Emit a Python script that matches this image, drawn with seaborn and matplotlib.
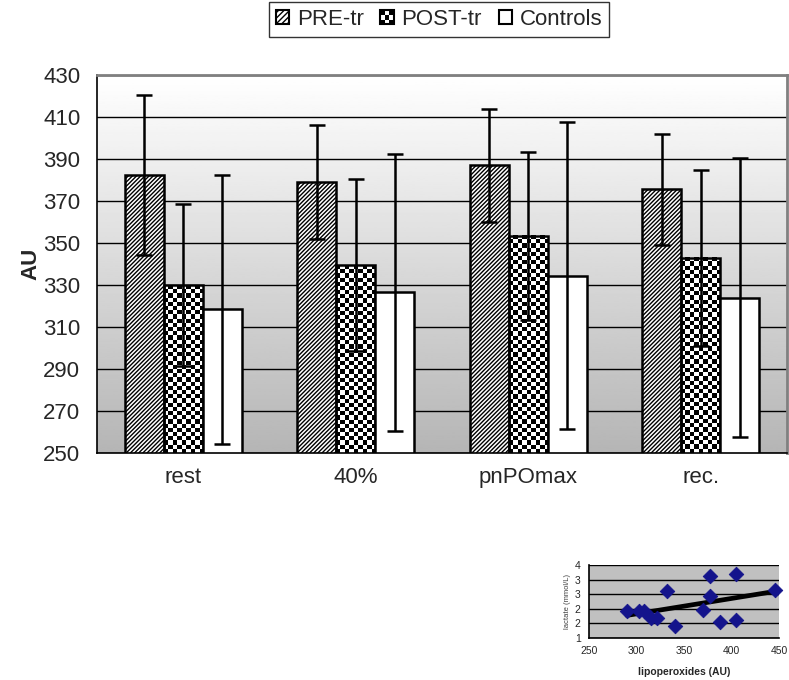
import numpy as np
import pandas as pd
import matplotlib
matplotlib.use("Agg")
import matplotlib.pyplot as plt
from matplotlib.patches import Rectangle
from matplotlib.legend_handler import HandlerBase
from matplotlib.ticker import FormatStrFormatter
import seaborn as sns

sns.set_style("white")
plt.rcParams["font.family"] = ["Liberation Sans", "DejaVu Sans"]
plt.rcParams["hatch.linewidth"] = 1.0

# ---- data ----
phases = ["rest", "40%", "pnPOmax", "rec."]
groups = ["PRE-tr", "POST-tr", "Controls"]
pre_mean = [382.5, 379.0, 387.0, 375.5]
pre_err = [38.0, 27.0, 27.0, 26.5]
post_mean = [330.0, 339.5, 353.5, 343.0]
post_err = [38.5, 41.0, 40.0, 42.0]
ctrl_mean = [318.5, 326.5, 334.5, 324.0]
ctrl_err = [64.0, 66.0, 73.0, 66.5]

# inset scatter: lipoperoxides vs lactate
lipo = [290, 302.5, 308, 315.5, 322, 332.5, 340.5, 369.5, 377, 377, 388, 404.5, 405, 446]
lact = [2.1, 2.1, 2.1, 1.83, 1.83, 2.93, 1.51, 2.14, 3.54, 2.73, 1.66, 1.73, 3.65, 2.97]

df = pd.DataFrame({
    "phase": phases * 3,
    "group": np.repeat(groups, len(phases)),
    "value": pre_mean + post_mean + ctrl_mean,
})
errs = [pre_err, post_err, ctrl_err]
ybase = 250

# ---- figure ----
fig = plt.figure(figsize=(7.89, 6.80), dpi=100)
ax = fig.add_axes([97 / 789, 227 / 680, 690 / 789, 378 / 680])

# gradient background
grad = np.linspace(0.71, 1.0, 256).reshape(-1, 1)
ax.imshow(grad, cmap="gray", vmin=0, vmax=1, extent=[0, 1, 0, 1],
          transform=ax.transAxes, aspect="auto", origin="lower", zorder=0)

sns.barplot(data=df, x="phase", y="value", hue="group", errorbar=None,
            width=0.68, palette=["white"] * 3, edgecolor="black",
            linewidth=1.8, saturation=1, ax=ax, legend=False, zorder=1)

# patterns
for bar in ax.containers[0]:
    bar.set_hatch("////////")
for bar in ax.containers[1]:
    bar.set_facecolor("none")
    x0, w, h = bar.get_x(), bar.get_width(), bar.get_height()
    ncols = 9
    nrows = max(int(round((h - ybase) / 2.0)), 1)
    ii, jj = np.indices((nrows, ncols))
    chk = ((ii + jj) % 2).astype(float)
    ax.imshow(chk, cmap="gray", vmin=0, vmax=1, extent=[x0, x0 + w, ybase, h],
              aspect="auto", origin="lower", interpolation="nearest", zorder=0.9)

# error bars
for cont, err in zip(ax.containers, errs):
    xs = [b.get_x() + b.get_width() / 2 for b in cont]
    ys = [b.get_height() for b in cont]
    ax.errorbar(xs, ys, yerr=err, fmt="none", ecolor="black", elinewidth=1.8,
                capsize=6, capthick=1.8, zorder=3)

ax.set_ylim(250, 430)
ax.set_xlim(-0.5, 3.5)
ax.set_yticks(np.arange(250, 431, 20))
ax.yaxis.grid(True, color="black", linewidth=1.0)
ax.set_axisbelow(True)
for gl in ax.get_ygridlines():
    gl.set_zorder(0.5)

ax.set_xticks(range(4))
ax.set_xticklabels(phases)
ax.set_xticks(np.arange(-0.5, 3.6, 1), minor=True)
ax.tick_params(axis="x", which="major", length=0, pad=10, labelsize=16)
ax.tick_params(axis="x", which="minor", length=6, width=1, color="black", direction="out")
ax.tick_params(axis="y", length=7, width=1, color="black", direction="out", labelsize=16, pad=5)
ax.set_xlabel("")
ax.set_ylabel("AU", fontsize=16, fontweight="bold", labelpad=1)

for side in ["left", "bottom"]:
    ax.spines[side].set_color("black")
    ax.spines[side].set_linewidth(1.2)
for side in ["top", "right"]:
    ax.spines[side].set_visible(True)
    ax.spines[side].set_color("#808080")
    ax.spines[side].set_linewidth(2)


# legend with a checker swatch
class CheckerHandler(HandlerBase):
    def create_artists(self, legend, orig_handle, xdescent, ydescent,
                       width, height, fontsize, trans):
        arts = [Rectangle((-xdescent, -ydescent), width, height, facecolor="white",
                          edgecolor="black", lw=1.5, transform=trans)]
        n = 3
        cw, ch = width / n, height / n
        for i in range(n):
            for j in range(n):
                if (i + j) % 2 == 0:
                    arts.append(Rectangle((-xdescent + i * cw, -ydescent + j * ch), cw, ch,
                                          facecolor="black", lw=0, transform=trans))
        return arts


h_pre = Rectangle((0, 0), 1, 1, facecolor="white", edgecolor="black", hatch="//////", lw=1.5)
h_post = Rectangle((0, 0), 1, 1, facecolor="black")
h_ctrl = Rectangle((0, 0), 1, 1, facecolor="white", edgecolor="black", lw=1.5)
leg = fig.legend([h_pre, h_post, h_ctrl], groups, loc="center",
                 bbox_to_anchor=(439 / 789, 1 - 19.5 / 680), ncol=3, fontsize=16,
                 frameon=True, fancybox=False, edgecolor="black", handlelength=0.6,
                 handleheight=0.6, handletextpad=0.35, columnspacing=0.75,
                 borderpad=0.3, handler_map={h_post: CheckerHandler()})
leg.get_frame().set_linewidth(1.0)

# ---- inset scatter ----
ax2 = fig.add_axes([589 / 789, 42 / 680, 190 / 789, 73 / 680])
ax2.set_facecolor("#c0c0c0")
sns.regplot(x=lipo, y=lact, ax=ax2, ci=None, scatter=False,
            line_kws={"color": "black", "lw": 3.4, "zorder": 2})
sns.scatterplot(x=lipo, y=lact, ax=ax2, marker="D", s=55, color="#14148c",
                edgecolor="#14148c", zorder=3, clip_on=False)
ax2.set_xlim(250, 450)
ax2.set_ylim(1, 4)
ax2.set_xticks([250, 300, 350, 400, 450])
ax2.set_yticks(np.linspace(1, 4, 6))
ax2.yaxis.set_major_formatter(FormatStrFormatter("%.0f"))
ax2.yaxis.grid(True, color="black", linewidth=1.0)
ax2.set_axisbelow(True)
ax2.tick_params(axis="both", labelsize=7.5, length=3, width=1, direction="out",
                color="black", pad=3)
for side in ["top", "right"]:
    ax2.spines[side].set_visible(False)
for side in ["left", "bottom"]:
    ax2.spines[side].set_color("black")
    ax2.spines[side].set_linewidth(1.2)
ax2.set_ylabel("lactate (mmol/L)", fontsize=5.5, color="#404040", labelpad=3)
ax2.set_xlabel("lipoperoxides (AU)", fontsize=7.5, fontweight="bold", labelpad=8)

fig.savefig("out.png", dpi=100)
